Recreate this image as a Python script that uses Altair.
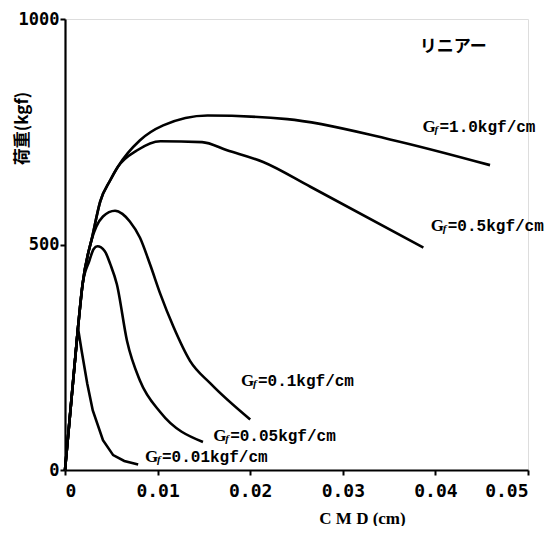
import altair as alt
import pandas as pd

# ---- data ----
x_001 = [0, 0.0014, 0.0018, 0.0024, 0.0030, 0.0041, 0.0052, 0.0064, 0.0079]
y_001 = [0, 315, 264, 192, 132, 66, 33, 20, 12]

x_005 = [0, 0.0014, 0.0019, 0.0026, 0.0031, 0.0035, 0.0043, 0.0049, 0.0056, 0.0067, 0.0081, 0.0103, 0.0149]
y_005 = [0, 315, 412, 462, 490, 496, 485, 456, 412, 286, 198, 128, 62]

x_01 = [0, 0.0014, 0.0019, 0.0028, 0.0041, 0.0054, 0.0062, 0.0070, 0.0081, 0.0092, 0.0103, 0.0117, 0.0135, 0.0157, 0.0200]
y_01 = [0, 315, 412, 505, 562, 575, 568, 551, 515, 455, 390, 318, 242, 192, 112]

x_05 = [0, 0.0014, 0.0019, 0.0030, 0.0038, 0.0049, 0.0057, 0.0078, 0.0103, 0.0148, 0.0175, 0.0214, 0.0265, 0.0387]
y_05 = [0, 315, 412, 522, 595, 643, 672, 709, 729, 727, 709, 683, 628, 493]

x_10 = [0, 0.0014, 0.0019, 0.0030, 0.0038, 0.0049, 0.0057, 0.0081, 0.0106, 0.0154, 0.0240, 0.0351, 0.0459]
y_10 = [0, 315, 412, 522, 595, 643, 672, 731, 764, 786, 778, 733, 676]

label_rest = ["=1.0kgf/cm", "=0.5kgf/cm", "=0.1kgf/cm", "=0.05kgf/cm", "=0.01kgf/cm"]
label_x = [0.0386, 0.0395, 0.0190, 0.0160, 0.00864]
label_y = [760, 542, 198, 75, 29]

title_text = "リニアー"
title_x = [0.0383]
title_y = [938]

x_ticks = [0, 0.01, 0.02, 0.03, 0.04, 0.05]
y_ticks = [0, 500, 1000]

# ---- build tables ----
rows = []
for name, xs, ys in [("0.01", x_001, y_001), ("0.05", x_005, y_005), ("0.1", x_01, y_01),
                     ("0.5", x_05, y_05), ("1.0", x_10, y_10)]:
    for i, (a, b) in enumerate(zip(xs, ys)):
        rows.append({"series": name, "cmd": a, "load": b, "order": i})
df = pd.DataFrame(rows)

lab = pd.DataFrame({"x": label_x, "y": label_y, "rest": label_rest})
tit = pd.DataFrame({"x": title_x, "y": title_y, "t": [title_text]})

xscale = alt.Scale(domain=[0, 0.05], nice=False, zero=True)
yscale = alt.Scale(domain=[0, 1000], nice=False)

xaxis = alt.Axis(values=x_ticks, title="C M D (cm)",
                 labelExpr="datum.value == 0 ? '0' : format(datum.value, '.2f')",
                 grid=False, domainColor="black", domainWidth=2.2, tickColor="black",
                 tickWidth=2, tickSize=5, labelPadding=7,
                 labelFont="DejaVu Sans Mono", labelFontWeight="bold", labelFontSize=18,
                 labelColor="black",
                 titleFont="Liberation Serif", titleFontWeight="bold", titleFontSize=17,
                 titleColor="black", titleX=297, titleY=48, titleBaseline="middle",
                 titleAlign="center")
yaxis = alt.Axis(values=y_ticks, title="荷重(kgf)", format="d",
                 grid=False, domainColor="black", domainWidth=2.2, tickColor="black",
                 tickWidth=2, tickSize=5, labelPadding=1,
                 labelFont="DejaVu Sans Mono", labelFontWeight="bold", labelFontSize=17,
                 labelColor="black",
                 titleFont="Noto Sans CJK JP", titleFontWeight="bold", titleFontSize=17,
                 titleColor="black", titleX=-43, titleY=109, titleAngle=270,
                 titleBaseline="middle", titleAlign="center")

base = alt.Chart(df).encode(
    x=alt.X("cmd:Q", scale=xscale, axis=xaxis),
    y=alt.Y("load:Q", scale=yscale, axis=yaxis),
    detail="series:N",
    order="order:Q",
)

smooth = base.transform_filter("datum.series != '0.01'").mark_line(
    color="black", strokeWidth=2.6, interpolate="monotone")
sharp = base.transform_filter("datum.series == '0.01'").mark_line(
    color="black", strokeWidth=2.6, interpolate="linear")

lab_base = alt.Chart(lab).encode(
    x=alt.X("x:Q", scale=xscale), y=alt.Y("y:Q", scale=yscale))
g_txt = lab_base.mark_text(text="G", align="left", baseline="middle",
                           font="Liberation Serif", fontWeight="bold", fontSize=17, color="black")
f_txt = lab_base.mark_text(text="f", align="left", baseline="middle", dx=12, dy=3,
                           font="Liberation Serif", fontWeight="bold", fontStyle="italic",
                           fontSize=11, color="black")
r_txt = lab_base.mark_text(align="left", baseline="middle", dx=17,
                           font="Liberation Mono", fontWeight="bold", fontSize=16,
                           color="black").encode(text="rest:N")

t_txt = alt.Chart(tit).mark_text(align="left", baseline="middle",
                                 font="Noto Sans CJK JP", fontWeight="bold", fontSize=17,
                                 color="black").encode(
    x=alt.X("x:Q", scale=xscale), y=alt.Y("y:Q", scale=yscale), text="t:N")

chart = alt.layer(smooth, sharp, g_txt, f_txt, r_txt, t_txt).properties(
    width=463, height=451,
    autosize=alt.AutoSizeParams(type="none"),
    padding={"left": 57, "top": 11, "right": 21, "bottom": 56},
).configure_view(stroke=None).configure(background="white")

chart.save("out.html", embed_options={"renderer": "svg", "actions": False})
